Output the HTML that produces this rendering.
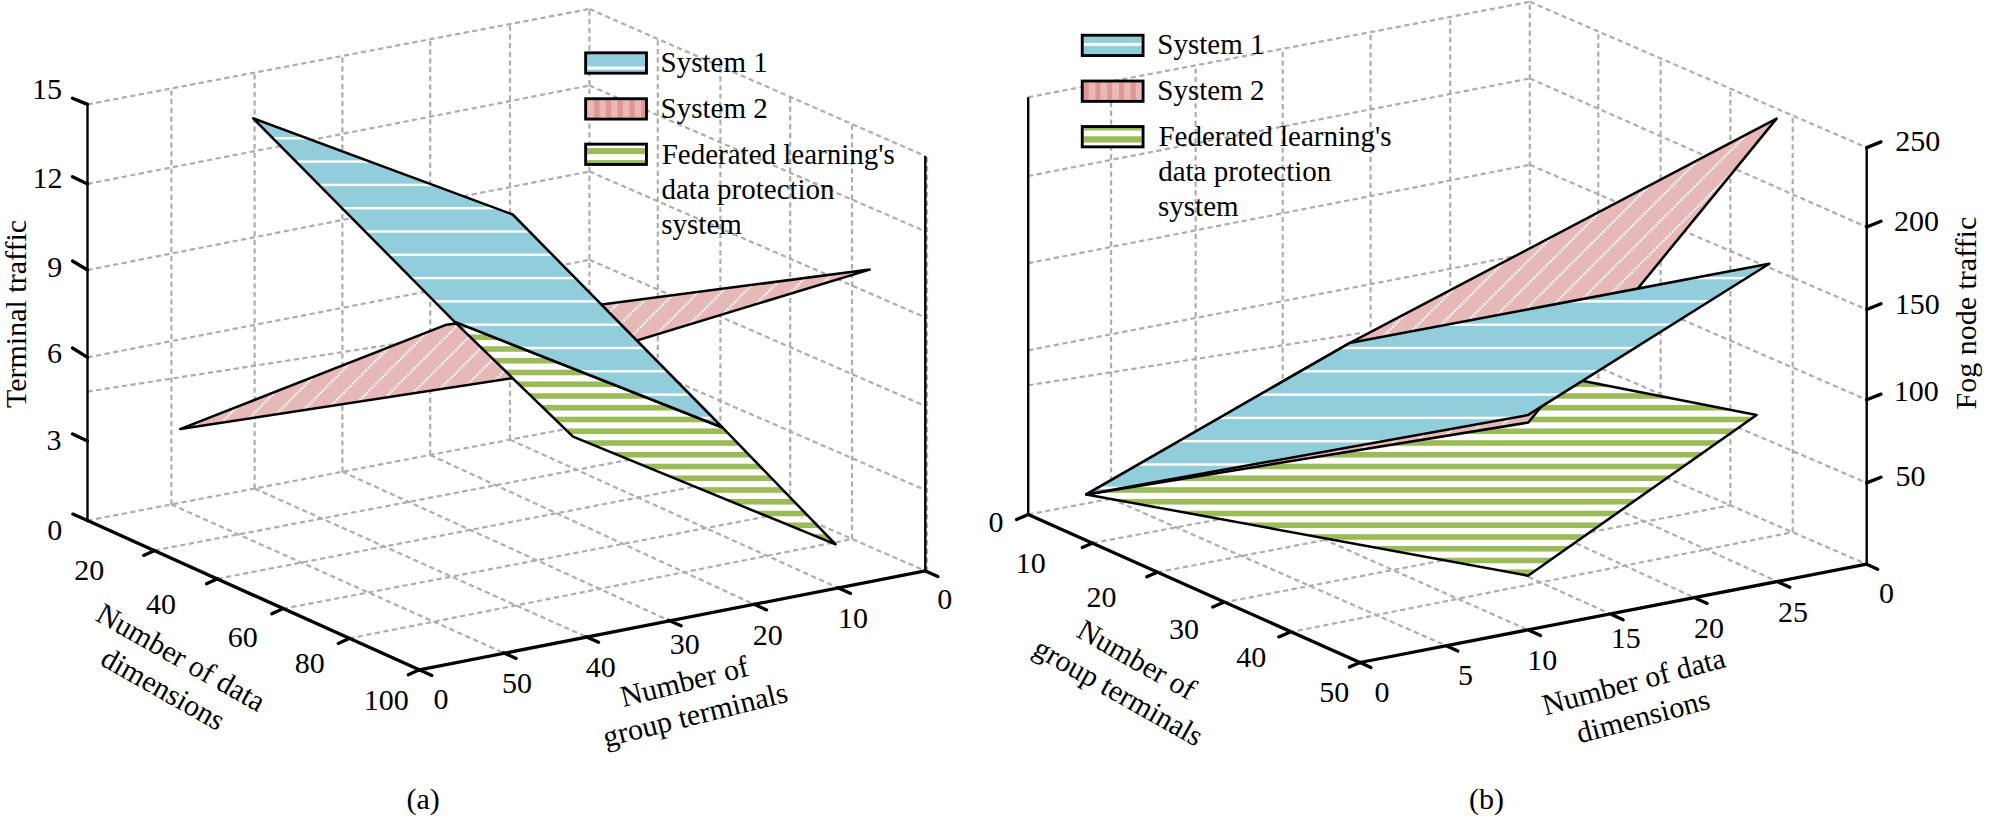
<!DOCTYPE html><html><head><meta charset="utf-8"><style>html,body{margin:0;padding:0;background:#fff;width:2000px;height:819px;overflow:hidden}svg{display:block}</style></head><body><svg width="2000" height="819" viewBox="0 0 2000 819">
<defs><clipPath id="caBlue"><polygon points="253.2,118.3 512.7,214.5 722.5,427.5 454.4,321.7"/></clipPath><clipPath id="caPink"><polygon points="180.1,429.1 446.5,324.7 869.7,269.6 513.8,378.0"/></clipPath><clipPath id="caGreen"><polygon points="454.4,321.7 573.0,436.7 835.6,544.4 722.5,427.5"/></clipPath><clipPath id="cbBlue"><polygon points="1086.3,494.4 1349.5,343.1 1769.3,263.8 1527.8,415.1"/></clipPath><clipPath id="cbPink"><polygon points="1086.3,494.4 1349.5,343.1 1776.6,118.6 1528.3,422.5"/></clipPath><clipPath id="cbGreen"><polygon points="1086.3,494.4 1540.0,372.6 1756.6,415.1 1528.0,575.7"/></clipPath></defs>
<rect width="2000" height="819" fill="#fff"/>
<g stroke="#adadad" stroke-width="2.2" stroke-dasharray="5.2 3.5" fill="none">
<line x1="87.5" y1="520.5" x2="589.4" y2="424.5"/>
<line x1="87.5" y1="357.4" x2="589.4" y2="259.8"/>
<line x1="87.5" y1="270.0" x2="589.4" y2="171.5"/>
<line x1="87.5" y1="183.9" x2="589.4" y2="85.5"/>
<line x1="87.5" y1="104.4" x2="589.4" y2="9.0"/>
<line x1="87.5" y1="391.6" x2="400.0" y2="343.2"/>
<line x1="589.4" y1="424.5" x2="925.3" y2="570.9"/>
<line x1="589.4" y1="343.9" x2="925.3" y2="490.1"/>
<line x1="589.4" y1="259.8" x2="925.3" y2="406.0"/>
<line x1="589.4" y1="171.5" x2="925.3" y2="317.4"/>
<line x1="589.4" y1="85.5" x2="925.3" y2="231.4"/>
<line x1="589.4" y1="9.0" x2="925.3" y2="156.1"/>
<line x1="171.4" y1="504.5" x2="171.4" y2="88.5"/>
<line x1="254.6" y1="488.5" x2="254.6" y2="72.6"/>
<line x1="342.4" y1="471.7" x2="342.4" y2="55.9"/>
<line x1="430.2" y1="455.0" x2="430.2" y2="39.3"/>
<line x1="510.0" y1="439.7" x2="510.0" y2="24.1"/>
<line x1="589.4" y1="424.5" x2="589.4" y2="9.0"/>
<line x1="657.8" y1="454.3" x2="657.8" y2="39.0"/>
<line x1="720.4" y1="481.6" x2="720.4" y2="66.4"/>
<line x1="790.2" y1="512.0" x2="790.2" y2="96.9"/>
<line x1="852.1" y1="539.0" x2="852.1" y2="124.0"/>
<line x1="927.0" y1="571.4" x2="927.0" y2="157.1"/>
<line x1="171.4" y1="504.5" x2="503.5" y2="652.8"/>
<line x1="254.6" y1="488.5" x2="586.0" y2="636.7"/>
<line x1="342.4" y1="471.7" x2="668.5" y2="620.2"/>
<line x1="430.2" y1="455.0" x2="754.0" y2="604.3"/>
<line x1="510.0" y1="439.7" x2="838.0" y2="587.8"/>
<line x1="154.6" y1="550.4" x2="657.8" y2="454.3"/>
<line x1="217.5" y1="578.8" x2="720.4" y2="481.6"/>
<line x1="282.8" y1="608.8" x2="790.2" y2="512.0"/>
<line x1="349.2" y1="638.4" x2="852.1" y2="539.0"/>
<line x1="1028.2" y1="514.5" x2="1529.8" y2="418.7"/>
<line x1="1028.2" y1="350.3" x2="1529.8" y2="253.4"/>
<line x1="1028.2" y1="263.2" x2="1529.8" y2="164.8"/>
<line x1="1028.2" y1="176.0" x2="1529.8" y2="78.5"/>
<line x1="1028.2" y1="97.2" x2="1529.8" y2="1.8"/>
<line x1="1028.2" y1="385.3" x2="1362.0" y2="332.9"/>
<line x1="1529.8" y1="418.7" x2="1866.7" y2="564.2"/>
<line x1="1529.8" y1="337.8" x2="1866.7" y2="482.9"/>
<line x1="1529.8" y1="253.4" x2="1866.7" y2="399.8"/>
<line x1="1529.8" y1="164.8" x2="1866.7" y2="309.5"/>
<line x1="1529.8" y1="78.5" x2="1866.7" y2="227.0"/>
<line x1="1529.8" y1="1.8" x2="1866.7" y2="147.6"/>
<line x1="1111.1" y1="498.7" x2="1111.1" y2="81.4"/>
<line x1="1195.6" y1="482.5" x2="1195.6" y2="65.4"/>
<line x1="1282.7" y1="465.9" x2="1282.7" y2="48.8"/>
<line x1="1370.6" y1="449.1" x2="1370.6" y2="32.1"/>
<line x1="1450.2" y1="433.9" x2="1450.2" y2="16.9"/>
<line x1="1529.8" y1="418.7" x2="1529.8" y2="1.8"/>
<line x1="1598.3" y1="448.3" x2="1598.3" y2="31.4"/>
<line x1="1660.6" y1="475.2" x2="1660.6" y2="58.4"/>
<line x1="1730.4" y1="505.3" x2="1730.4" y2="88.6"/>
<line x1="1792.7" y1="532.2" x2="1792.7" y2="115.6"/>
<line x1="1111.1" y1="498.7" x2="1446.8" y2="646.0"/>
<line x1="1195.6" y1="482.5" x2="1529.5" y2="630.6"/>
<line x1="1282.7" y1="465.9" x2="1612.1" y2="614.7"/>
<line x1="1370.6" y1="449.1" x2="1696.2" y2="598.4"/>
<line x1="1450.2" y1="433.9" x2="1778.8" y2="582.2"/>
<line x1="1092.8" y1="543.0" x2="1598.3" y2="448.3"/>
<line x1="1157.3" y1="572.3" x2="1660.6" y2="475.2"/>
<line x1="1223.2" y1="602.5" x2="1730.4" y2="505.3"/>
<line x1="1289.2" y1="632.4" x2="1792.7" y2="532.2"/>
</g>
<polygon points="180.1,429.1 446.5,324.7 869.7,269.6 513.8,378.0" fill="#e6b9b8"/><g clip-path="url(#caPink)" stroke="#ffffff" stroke-width="2.2" stroke-dasharray="1.9 1.3"><line x1="-20.9" y1="434.1" x2="148.6" y2="264.6"/><line x1="2.2" y1="434.1" x2="171.7" y2="264.6"/><line x1="25.3" y1="434.1" x2="194.8" y2="264.6"/><line x1="48.4" y1="434.1" x2="217.9" y2="264.6"/><line x1="71.5" y1="434.1" x2="241.0" y2="264.6"/><line x1="94.6" y1="434.1" x2="264.1" y2="264.6"/><line x1="117.7" y1="434.1" x2="287.2" y2="264.6"/><line x1="140.8" y1="434.1" x2="310.3" y2="264.6"/><line x1="163.9" y1="434.1" x2="333.4" y2="264.6"/><line x1="187.0" y1="434.1" x2="356.5" y2="264.6"/><line x1="210.1" y1="434.1" x2="379.6" y2="264.6"/><line x1="233.2" y1="434.1" x2="402.7" y2="264.6"/><line x1="256.3" y1="434.1" x2="425.8" y2="264.6"/><line x1="279.4" y1="434.1" x2="448.9" y2="264.6"/><line x1="302.5" y1="434.1" x2="472.0" y2="264.6"/><line x1="325.6" y1="434.1" x2="495.1" y2="264.6"/><line x1="348.7" y1="434.1" x2="518.2" y2="264.6"/><line x1="371.8" y1="434.1" x2="541.3" y2="264.6"/><line x1="394.9" y1="434.1" x2="564.4" y2="264.6"/><line x1="418.0" y1="434.1" x2="587.5" y2="264.6"/><line x1="441.1" y1="434.1" x2="610.6" y2="264.6"/><line x1="464.2" y1="434.1" x2="633.7" y2="264.6"/><line x1="487.3" y1="434.1" x2="656.8" y2="264.6"/><line x1="510.4" y1="434.1" x2="679.9" y2="264.6"/><line x1="533.5" y1="434.1" x2="703.0" y2="264.6"/><line x1="556.6" y1="434.1" x2="726.1" y2="264.6"/><line x1="579.7" y1="434.1" x2="749.2" y2="264.6"/><line x1="602.8" y1="434.1" x2="772.3" y2="264.6"/><line x1="625.9" y1="434.1" x2="795.4" y2="264.6"/><line x1="649.0" y1="434.1" x2="818.5" y2="264.6"/><line x1="672.1" y1="434.1" x2="841.6" y2="264.6"/><line x1="695.2" y1="434.1" x2="864.7" y2="264.6"/><line x1="718.3" y1="434.1" x2="887.8" y2="264.6"/><line x1="741.4" y1="434.1" x2="910.9" y2="264.6"/><line x1="764.5" y1="434.1" x2="934.0" y2="264.6"/><line x1="787.6" y1="434.1" x2="957.1" y2="264.6"/><line x1="810.7" y1="434.1" x2="980.2" y2="264.6"/><line x1="833.8" y1="434.1" x2="1003.3" y2="264.6"/><line x1="856.9" y1="434.1" x2="1026.4" y2="264.6"/></g><polygon points="180.1,429.1 446.5,324.7 869.7,269.6 513.8,378.0" fill="none" stroke="#000" stroke-width="2.5" stroke-linejoin="round"/>
<polygon points="454.4,321.7 573.0,436.7 835.6,544.4 722.5,427.5" fill="#ffffff"/><g clip-path="url(#caGreen)" fill="#9bbb59"><rect x="450.4" y="299.20" width="389.2" height="5.60"/><rect x="450.4" y="310.95" width="389.2" height="5.60"/><rect x="450.4" y="322.70" width="389.2" height="5.60"/><rect x="450.4" y="334.45" width="389.2" height="5.60"/><rect x="450.4" y="346.20" width="389.2" height="5.60"/><rect x="450.4" y="357.95" width="389.2" height="5.60"/><rect x="450.4" y="369.70" width="389.2" height="5.60"/><rect x="450.4" y="381.45" width="389.2" height="5.60"/><rect x="450.4" y="393.20" width="389.2" height="5.60"/><rect x="450.4" y="404.95" width="389.2" height="5.60"/><rect x="450.4" y="416.70" width="389.2" height="5.60"/><rect x="450.4" y="428.45" width="389.2" height="5.60"/><rect x="450.4" y="440.20" width="389.2" height="5.60"/><rect x="450.4" y="451.95" width="389.2" height="5.60"/><rect x="450.4" y="463.70" width="389.2" height="5.60"/><rect x="450.4" y="475.45" width="389.2" height="5.60"/><rect x="450.4" y="487.20" width="389.2" height="5.60"/><rect x="450.4" y="498.95" width="389.2" height="5.60"/><rect x="450.4" y="510.70" width="389.2" height="5.60"/><rect x="450.4" y="522.45" width="389.2" height="5.60"/><rect x="450.4" y="534.20" width="389.2" height="5.60"/><rect x="450.4" y="545.95" width="389.2" height="5.60"/></g><polygon points="454.4,321.7 573.0,436.7 835.6,544.4 722.5,427.5" fill="none" stroke="#000" stroke-width="2.5" stroke-linejoin="round"/>
<polygon points="253.2,118.3 512.7,214.5 722.5,427.5 454.4,321.7" fill="#92cddc"/><g clip-path="url(#caBlue)" fill="#ffffff"><rect x="249.2" y="90.50" width="477.3" height="2.40"/><rect x="249.2" y="113.80" width="477.3" height="2.40"/><rect x="249.2" y="137.10" width="477.3" height="2.40"/><rect x="249.2" y="160.40" width="477.3" height="2.40"/><rect x="249.2" y="183.70" width="477.3" height="2.40"/><rect x="249.2" y="207.00" width="477.3" height="2.40"/><rect x="249.2" y="230.30" width="477.3" height="2.40"/><rect x="249.2" y="253.60" width="477.3" height="2.40"/><rect x="249.2" y="276.90" width="477.3" height="2.40"/><rect x="249.2" y="300.20" width="477.3" height="2.40"/><rect x="249.2" y="323.50" width="477.3" height="2.40"/><rect x="249.2" y="346.80" width="477.3" height="2.40"/><rect x="249.2" y="370.10" width="477.3" height="2.40"/><rect x="249.2" y="393.40" width="477.3" height="2.40"/><rect x="249.2" y="416.70" width="477.3" height="2.40"/><rect x="249.2" y="440.00" width="477.3" height="2.40"/></g><polygon points="253.2,118.3 512.7,214.5 722.5,427.5 454.4,321.7" fill="none" stroke="#000" stroke-width="2.5" stroke-linejoin="round"/>
<polygon points="1086.3,494.4 1540.0,372.6 1756.6,415.1 1528.0,575.7" fill="#ffffff"/><g clip-path="url(#cbGreen)" fill="#9bbb59"><rect x="1082.3" y="357.95" width="678.3" height="5.60"/><rect x="1082.3" y="369.70" width="678.3" height="5.60"/><rect x="1082.3" y="381.45" width="678.3" height="5.60"/><rect x="1082.3" y="393.20" width="678.3" height="5.60"/><rect x="1082.3" y="404.95" width="678.3" height="5.60"/><rect x="1082.3" y="416.70" width="678.3" height="5.60"/><rect x="1082.3" y="428.45" width="678.3" height="5.60"/><rect x="1082.3" y="440.20" width="678.3" height="5.60"/><rect x="1082.3" y="451.95" width="678.3" height="5.60"/><rect x="1082.3" y="463.70" width="678.3" height="5.60"/><rect x="1082.3" y="475.45" width="678.3" height="5.60"/><rect x="1082.3" y="487.20" width="678.3" height="5.60"/><rect x="1082.3" y="498.95" width="678.3" height="5.60"/><rect x="1082.3" y="510.70" width="678.3" height="5.60"/><rect x="1082.3" y="522.45" width="678.3" height="5.60"/><rect x="1082.3" y="534.20" width="678.3" height="5.60"/><rect x="1082.3" y="545.95" width="678.3" height="5.60"/><rect x="1082.3" y="557.70" width="678.3" height="5.60"/><rect x="1082.3" y="569.45" width="678.3" height="5.60"/><rect x="1082.3" y="581.20" width="678.3" height="5.60"/></g><polygon points="1086.3,494.4 1540.0,372.6 1756.6,415.1 1528.0,575.7" fill="none" stroke="#000" stroke-width="2.5" stroke-linejoin="round"/>
<polygon points="1086.3,494.4 1349.5,343.1 1776.6,118.6 1528.3,422.5" fill="#e6b9b8"/><g clip-path="url(#cbPink)" stroke="#ffffff" stroke-width="2.2" stroke-dasharray="1.9 1.3"><line x1="665.8" y1="499.4" x2="1051.6" y2="113.6"/><line x1="688.9" y1="499.4" x2="1074.7" y2="113.6"/><line x1="712.0" y1="499.4" x2="1097.8" y2="113.6"/><line x1="735.1" y1="499.4" x2="1120.9" y2="113.6"/><line x1="758.2" y1="499.4" x2="1144.0" y2="113.6"/><line x1="781.3" y1="499.4" x2="1167.1" y2="113.6"/><line x1="804.4" y1="499.4" x2="1190.2" y2="113.6"/><line x1="827.5" y1="499.4" x2="1213.3" y2="113.6"/><line x1="850.6" y1="499.4" x2="1236.4" y2="113.6"/><line x1="873.7" y1="499.4" x2="1259.5" y2="113.6"/><line x1="896.8" y1="499.4" x2="1282.6" y2="113.6"/><line x1="919.9" y1="499.4" x2="1305.7" y2="113.6"/><line x1="943.0" y1="499.4" x2="1328.8" y2="113.6"/><line x1="966.1" y1="499.4" x2="1351.9" y2="113.6"/><line x1="989.2" y1="499.4" x2="1375.0" y2="113.6"/><line x1="1012.3" y1="499.4" x2="1398.1" y2="113.6"/><line x1="1035.4" y1="499.4" x2="1421.2" y2="113.6"/><line x1="1058.5" y1="499.4" x2="1444.3" y2="113.6"/><line x1="1081.6" y1="499.4" x2="1467.4" y2="113.6"/><line x1="1104.7" y1="499.4" x2="1490.5" y2="113.6"/><line x1="1127.8" y1="499.4" x2="1513.6" y2="113.6"/><line x1="1150.9" y1="499.4" x2="1536.7" y2="113.6"/><line x1="1174.0" y1="499.4" x2="1559.8" y2="113.6"/><line x1="1197.1" y1="499.4" x2="1582.9" y2="113.6"/><line x1="1220.2" y1="499.4" x2="1606.0" y2="113.6"/><line x1="1243.3" y1="499.4" x2="1629.1" y2="113.6"/><line x1="1266.4" y1="499.4" x2="1652.2" y2="113.6"/><line x1="1289.5" y1="499.4" x2="1675.3" y2="113.6"/><line x1="1312.6" y1="499.4" x2="1698.4" y2="113.6"/><line x1="1335.7" y1="499.4" x2="1721.5" y2="113.6"/><line x1="1358.8" y1="499.4" x2="1744.6" y2="113.6"/><line x1="1381.9" y1="499.4" x2="1767.7" y2="113.6"/><line x1="1405.0" y1="499.4" x2="1790.8" y2="113.6"/><line x1="1428.1" y1="499.4" x2="1813.9" y2="113.6"/><line x1="1451.2" y1="499.4" x2="1837.0" y2="113.6"/><line x1="1474.3" y1="499.4" x2="1860.1" y2="113.6"/><line x1="1497.4" y1="499.4" x2="1883.2" y2="113.6"/><line x1="1520.5" y1="499.4" x2="1906.3" y2="113.6"/><line x1="1543.6" y1="499.4" x2="1929.4" y2="113.6"/><line x1="1566.7" y1="499.4" x2="1952.5" y2="113.6"/><line x1="1589.8" y1="499.4" x2="1975.6" y2="113.6"/><line x1="1612.9" y1="499.4" x2="1998.7" y2="113.6"/><line x1="1636.0" y1="499.4" x2="2021.8" y2="113.6"/><line x1="1659.1" y1="499.4" x2="2044.9" y2="113.6"/><line x1="1682.2" y1="499.4" x2="2068.0" y2="113.6"/><line x1="1705.3" y1="499.4" x2="2091.1" y2="113.6"/><line x1="1728.4" y1="499.4" x2="2114.2" y2="113.6"/><line x1="1751.5" y1="499.4" x2="2137.3" y2="113.6"/><line x1="1774.6" y1="499.4" x2="2160.4" y2="113.6"/></g><polygon points="1086.3,494.4 1349.5,343.1 1776.6,118.6 1528.3,422.5" fill="none" stroke="#000" stroke-width="2.5" stroke-linejoin="round"/>
<polygon points="1086.3,494.4 1349.5,343.1 1769.3,263.8 1527.8,415.1" fill="#92cddc"/><g clip-path="url(#cbBlue)" fill="#ffffff"><rect x="1082.3" y="230.30" width="691.0" height="2.40"/><rect x="1082.3" y="253.60" width="691.0" height="2.40"/><rect x="1082.3" y="276.90" width="691.0" height="2.40"/><rect x="1082.3" y="300.20" width="691.0" height="2.40"/><rect x="1082.3" y="323.50" width="691.0" height="2.40"/><rect x="1082.3" y="346.80" width="691.0" height="2.40"/><rect x="1082.3" y="370.10" width="691.0" height="2.40"/><rect x="1082.3" y="393.40" width="691.0" height="2.40"/><rect x="1082.3" y="416.70" width="691.0" height="2.40"/><rect x="1082.3" y="440.00" width="691.0" height="2.40"/><rect x="1082.3" y="463.30" width="691.0" height="2.40"/><rect x="1082.3" y="486.60" width="691.0" height="2.40"/><rect x="1082.3" y="509.90" width="691.0" height="2.40"/></g><polygon points="1086.3,494.4 1349.5,343.1 1769.3,263.8 1527.8,415.1" fill="none" stroke="#000" stroke-width="2.5" stroke-linejoin="round"/>
<g stroke="#000" stroke-width="3.3" fill="none" stroke-linecap="round"><line x1="87.5" y1="520.5" x2="419.3" y2="669.8"/><line x1="419.3" y1="669.8" x2="925.3" y2="570.9"/><line x1="87.5" y1="104.4" x2="72.5" y2="98.3"/><line x1="87.5" y1="183.9" x2="72.5" y2="176.8"/><line x1="87.5" y1="270.0" x2="72.5" y2="261.0"/><line x1="87.5" y1="357.4" x2="72.5" y2="348.0"/><line x1="87.5" y1="441.0" x2="72.5" y2="433.9"/><line x1="87.5" y1="520.5" x2="72.8" y2="514.1"/><line x1="154.6" y1="550.4" x2="143.6" y2="555.4"/><line x1="217.5" y1="578.8" x2="206.5" y2="583.8"/><line x1="282.8" y1="608.8" x2="271.8" y2="613.8"/><line x1="349.2" y1="638.4" x2="338.2" y2="643.4"/><line x1="419.3" y1="669.8" x2="408.3" y2="674.8"/><line x1="419.3" y1="669.8" x2="431.9" y2="675.4"/><line x1="503.5" y1="652.8" x2="516.1" y2="658.4"/><line x1="586.0" y1="636.7" x2="598.6" y2="642.3"/><line x1="668.5" y1="620.2" x2="681.1" y2="625.8"/><line x1="754.0" y1="604.3" x2="766.6" y2="609.9"/><line x1="838.0" y1="587.8" x2="850.6" y2="593.4"/><line x1="925.3" y1="570.9" x2="937.9" y2="576.5"/><line x1="1028.2" y1="514.5" x2="1359.9" y2="662.5"/><line x1="1359.9" y1="662.5" x2="1866.7" y2="564.2"/><line x1="1028.2" y1="514.5" x2="1016.6" y2="519.6"/><line x1="1092.8" y1="543.0" x2="1082.3" y2="547.5"/><line x1="1157.3" y1="572.3" x2="1146.8" y2="576.8"/><line x1="1223.2" y1="602.5" x2="1212.7" y2="607.0"/><line x1="1289.2" y1="632.4" x2="1278.7" y2="636.9"/><line x1="1359.9" y1="662.5" x2="1349.4" y2="667.0"/><line x1="1359.9" y1="662.5" x2="1370.9" y2="667.5"/><line x1="1446.8" y1="646.0" x2="1457.8" y2="651.0"/><line x1="1529.5" y1="630.6" x2="1540.5" y2="635.6"/><line x1="1612.1" y1="614.7" x2="1623.1" y2="619.7"/><line x1="1696.2" y1="598.4" x2="1707.2" y2="603.4"/><line x1="1778.8" y1="582.2" x2="1789.8" y2="587.2"/><line x1="1866.7" y1="564.2" x2="1877.7" y2="569.2"/><line x1="1866.7" y1="147.6" x2="1881.0" y2="141.9"/><line x1="1866.7" y1="227.0" x2="1881.0" y2="221.3"/><line x1="1866.7" y1="309.5" x2="1881.0" y2="303.8"/><line x1="1866.7" y1="399.8" x2="1881.0" y2="394.1"/><line x1="1866.7" y1="482.9" x2="1881.0" y2="477.2"/></g>
<g stroke="#000" stroke-width="2.4" fill="none"><line x1="87.5" y1="520.5" x2="87.5" y2="104.4"/><line x1="925.3" y1="570.9" x2="925.3" y2="156.1"/><line x1="1028.2" y1="514.5" x2="1028.2" y2="97.2"/><line x1="1866.7" y1="564.2" x2="1866.7" y2="147.6"/></g>
<rect x="587.10" y="54.30" width="57.90" height="17.40" fill="#92cddc"/><rect x="587.10" y="66.50" width="57.90" height="3" fill="#fff"/><rect x="585.65" y="52.85" width="60.80" height="20.30" fill="none" stroke="#000" stroke-width="2.9"/><rect x="587.10" y="100.20" width="57.90" height="17.40" fill="#eab9b5"/><rect x="594.10" y="100.20" width="5.40" height="17.40" fill="#df9795"/><rect x="605.85" y="100.20" width="5.40" height="17.40" fill="#df9795"/><rect x="617.60" y="100.20" width="5.40" height="17.40" fill="#df9795"/><rect x="629.35" y="100.20" width="5.40" height="17.40" fill="#df9795"/><rect x="641.10" y="100.20" width="3.90" height="17.40" fill="#df9795"/><rect x="585.65" y="98.75" width="60.80" height="20.30" fill="none" stroke="#000" stroke-width="2.9"/><rect x="587.10" y="145.60" width="57.90" height="17.40" fill="#fff"/><rect x="587.10" y="148.10" width="57.90" height="6.00" fill="#9bbb59"/><rect x="587.10" y="160.10" width="57.90" height="2.90" fill="#9bbb59"/><rect x="585.65" y="144.15" width="60.80" height="20.30" fill="none" stroke="#000" stroke-width="2.9"/>
<rect x="1083.70" y="36.70" width="57.90" height="17.40" fill="#92cddc"/><rect x="1083.70" y="42.90" width="57.90" height="3" fill="#fff"/><rect x="1082.25" y="35.25" width="60.80" height="20.30" fill="none" stroke="#000" stroke-width="2.9"/><rect x="1083.70" y="82.50" width="57.90" height="17.40" fill="#eab9b5"/><rect x="1083.75" y="82.50" width="5.00" height="17.40" fill="#df9795"/><rect x="1095.50" y="82.50" width="5.00" height="17.40" fill="#df9795"/><rect x="1107.25" y="82.50" width="5.00" height="17.40" fill="#df9795"/><rect x="1119.00" y="82.50" width="5.00" height="17.40" fill="#df9795"/><rect x="1130.75" y="82.50" width="5.00" height="17.40" fill="#df9795"/><rect x="1082.25" y="81.05" width="60.80" height="20.30" fill="none" stroke="#000" stroke-width="2.9"/><rect x="1083.70" y="128.00" width="57.90" height="17.40" fill="#fff"/><rect x="1083.70" y="128.00" width="57.90" height="2.50" fill="#9bbb59"/><rect x="1083.70" y="136.30" width="57.90" height="6.20" fill="#9bbb59"/><rect x="1082.25" y="126.55" width="60.80" height="20.30" fill="none" stroke="#000" stroke-width="2.9"/>
<g font-family="'Liberation Serif', 'Times New Roman', serif" fill="#000"><text x="32.0" y="99.2" font-size="30">15</text><text x="32.6" y="188.3" font-size="30">12</text><text x="47.2" y="277.1" font-size="30">9</text><text x="47.0" y="362.9" font-size="30">6</text><text x="46.4" y="450.0" font-size="30">3</text><text x="47.2" y="539.7" font-size="30">0</text><text x="74.3" y="580.1" font-size="30">20</text><text x="146.0" y="614.0" font-size="30">40</text><text x="227.7" y="646.6" font-size="30">60</text><text x="294.8" y="673.3" font-size="30">80</text><text x="363.7" y="709.8" font-size="30">100</text><text x="433.4" y="709.0" font-size="30">0</text><text x="502.0" y="692.6" font-size="30">50</text><text x="585.7" y="677.3" font-size="30">40</text><text x="669.7" y="653.8" font-size="30">30</text><text x="752.8" y="644.9" font-size="30">20</text><text x="838.0" y="628.0" font-size="30">10</text><text x="937.2" y="609.2" font-size="30">0</text><text x="988.6" y="531.9" font-size="30">0</text><text x="1015.8" y="573.0" font-size="30">10</text><text x="1086.4" y="606.7" font-size="30">20</text><text x="1168.9" y="639.2" font-size="30">30</text><text x="1236.3" y="666.7" font-size="30">40</text><text x="1319.3" y="701.9" font-size="30">50</text><text x="1374.5" y="701.6" font-size="30">0</text><text x="1457.9" y="684.5" font-size="30">5</text><text x="1527.3" y="670.3" font-size="30">10</text><text x="1610.7" y="647.5" font-size="30">15</text><text x="1694.0" y="637.5" font-size="30">20</text><text x="1778.0" y="621.8" font-size="30">25</text><text x="1878.9" y="603.3" font-size="30">0</text><text x="1895.3" y="150.5" font-size="30">250</text><text x="1894.1" y="231.1" font-size="30">200</text><text x="1894.7" y="313.5" font-size="30">150</text><text x="1893.7" y="400.7" font-size="30">100</text><text x="1895.6" y="486.2" font-size="30">50</text><text x="406.4" y="808.9" font-size="30">(a)</text><text x="1469.0" y="808.9" font-size="30">(b)</text><text x="660.6" y="71.6" font-size="29">System 1</text><text x="660.6" y="117.6" font-size="29">System 2</text><text x="661.7" y="164.1" font-size="29">Federated learning's</text><text x="661.5" y="198.8" font-size="29">data protection</text><text x="661.3" y="234.2" font-size="29">system</text><text x="1157.3" y="53.6" font-size="29">System 1</text><text x="1157.3" y="99.6" font-size="29">System 2</text><text x="1158.4" y="145.6" font-size="29">Federated learning's</text><text x="1158.2" y="180.8" font-size="29">data protection</text><text x="1158.0" y="215.6" font-size="29">system</text><text transform="translate(25.8,408) rotate(-90)" font-size="30">Terminal traffic</text><text transform="translate(1975.5,409.5) rotate(-90)" font-size="30">Fog node traffic</text><text transform="translate(176.1,666.1) rotate(29.5)" font-size="30" text-anchor="middle"><tspan x="0" y="0">Number of data</tspan><tspan x="0" y="36.3">dimensions</tspan></text><text transform="translate(686.7,691.2) rotate(-14)" font-size="30" text-anchor="middle"><tspan x="0" y="0">Number of</tspan><tspan x="2.5" y="34.7">group terminals</tspan></text><text transform="translate(1131.8,668.3) rotate(29.5)" font-size="30" text-anchor="middle"><tspan x="0" y="0">Number of</tspan><tspan x="0" y="37.0">group terminals</tspan></text><text transform="translate(1636.3,691.1) rotate(-15)" font-size="30" text-anchor="middle"><tspan x="0" y="0">Number of data</tspan><tspan x="0" y="36">dimensions</tspan></text></g>
</svg></body></html>
